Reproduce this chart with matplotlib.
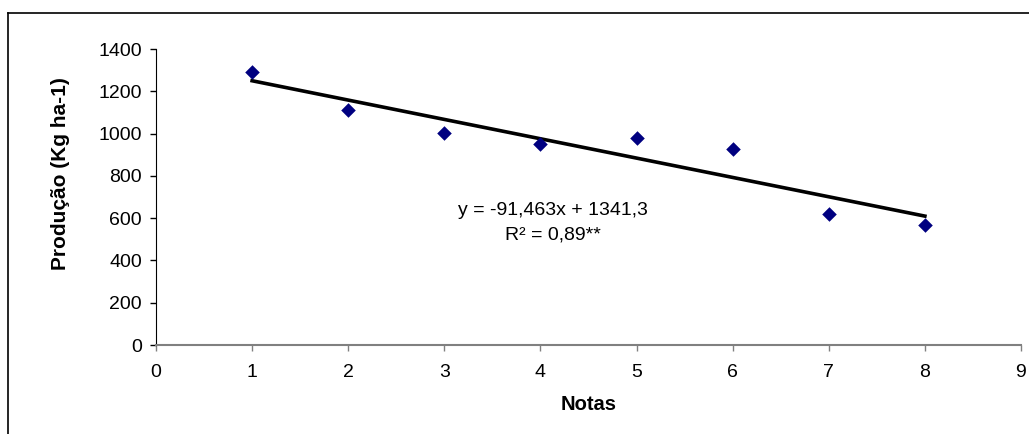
import numpy as np
import matplotlib.pyplot as plt
from matplotlib.lines import Line2D

plt.rcParams['font.family'] = ['Liberation Sans', 'DejaVu Sans']

notas = [1, 2, 3, 4, 5, 6, 7, 8]
producao = [1291, 1110, 1003, 949, 981, 927, 620, 566]
slope = -91.463
intercept = 1341.3
eq_text = "y = -91,463x + 1341,3\nR² = 0,89**"

fig = plt.figure(figsize=(10.29, 4.34), dpi=100)
ax = fig.add_axes([156 / 1029, 1 - 345 / 434, (1021 - 156) / 1029, (345 - 49) / 434])

# frame of the chart area (only left and top visible in the crop)
fig.add_artist(Line2D([8 / 1029, 8 / 1029], [0, 1 - 13 / 434], color="black", lw=1.2))
fig.add_artist(Line2D([8 / 1029, 1], [1 - 13 / 434, 1 - 13 / 434], color="black", lw=1.2))

fit_x = np.array([notas[0], notas[-1]])
ax.plot(fit_x, slope * fit_x + intercept, color="black", lw=2.6, zorder=2)
ax.scatter(notas, producao, marker="D", s=55, color="#000080", zorder=3, linewidths=0)

ax.text(4.13, 578, eq_text, ha="center", va="center", fontsize=14, linespacing=1.55)

ax.set_xlim(0, 9)
ax.set_ylim(0, 1400)
ax.set_xticks(range(0, 10))
ax.set_yticks(range(0, 1401, 200))
ax.tick_params(axis="both", labelsize=14, length=4, width=1)
ax.tick_params(axis="x", color="#808080", pad=10)
ax.tick_params(axis="y", pad=6)
for side in ["top", "right"]:
    ax.spines[side].set_visible(False)
ax.spines["bottom"].set_color("#808080")
ax.spines["bottom"].set_linewidth(1.5)
ax.spines["left"].set_color("black")

ax.set_xlabel("Notas", fontsize=14.5, fontweight="bold", labelpad=10)
ax.set_ylabel("Produção (Kg ha-1)", fontsize=15, fontweight="bold")
ax.yaxis.set_label_coords(-0.10, 0.58)

fig.savefig("out.png", dpi=100)
